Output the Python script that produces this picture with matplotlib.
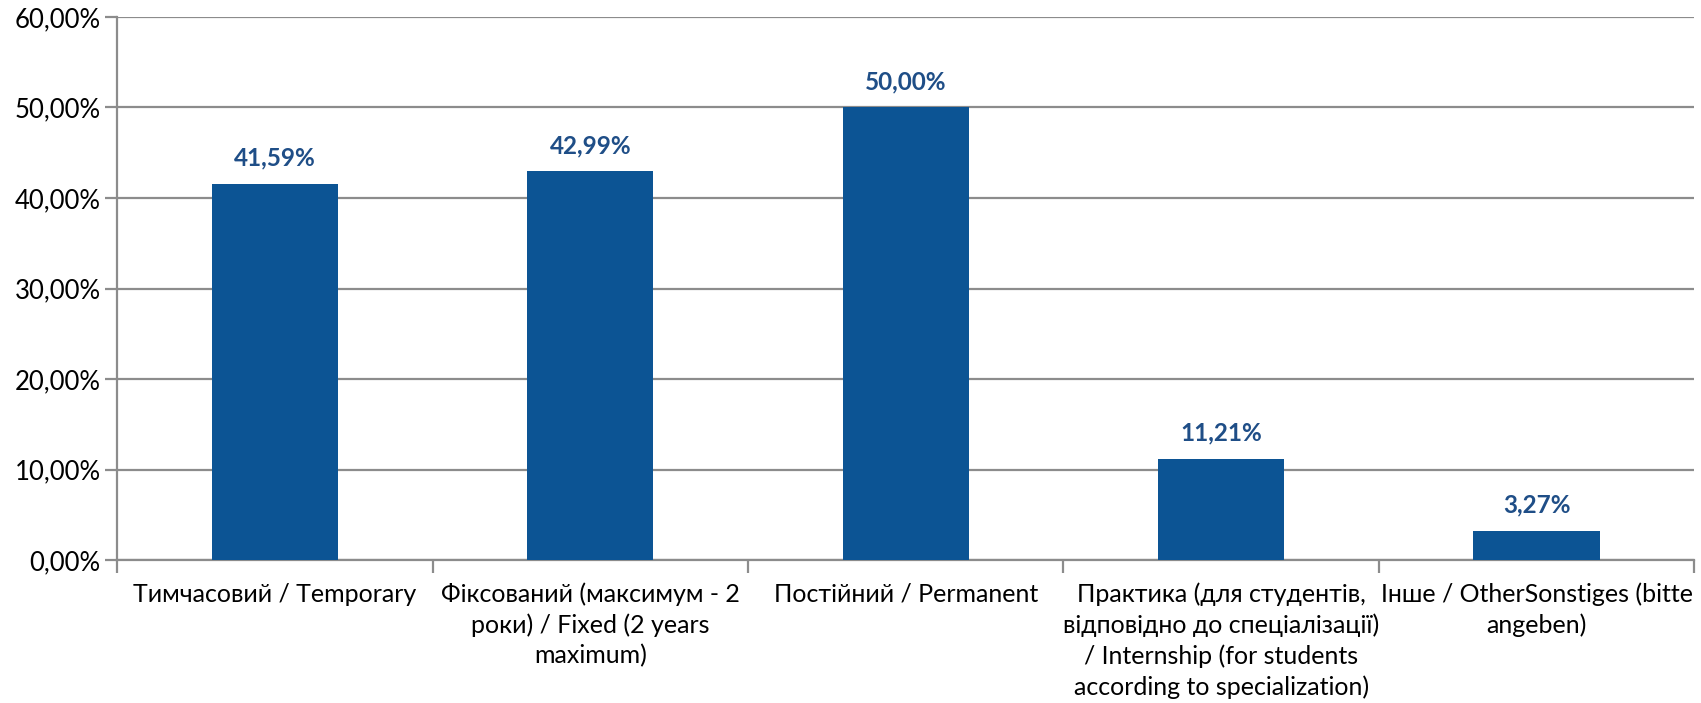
import numpy as np
import matplotlib.pyplot as plt
from matplotlib.ticker import FixedLocator, FuncFormatter

# Дані
categories = [
    "Тимчасовий / Temporary",
    "Фіксований (максимум - 2\nроки) / Fixed (2 years\nmaximum)",
    "Постійний / Permanent",
    "Практика (для студентів,\nвідповідно до спеціалізації)\n/ Internship (for students\naccording to specialization)",
    "Інше / OtherSonstiges (bitte\nangeben)",
]
values = [41.59, 42.99, 50.00, 11.21, 3.27]
y_ticks = [0, 10, 20, 30, 40, 50, 60]

plt.rcParams['font.family'] = ['Lato', 'DejaVu Sans']

bar_color = '#0C5494'
label_color = '#1F4E87'
grid_color = '#8C8C8C'

fig = plt.figure(figsize=(17.01, 7.03), dpi=100)
ax = fig.add_axes([0.069, 0.203, 0.927, 0.773])

x = np.arange(len(values))
ax.bar(x, values, width=0.4, color=bar_color, zorder=3)

for xi, v in zip(x, values):
    ax.annotate(f"{v:.2f}%".replace('.', ','), (xi, v), xytext=(0, 10),
                textcoords='offset points', ha='center', va='bottom',
                fontsize=17.5, fontweight='bold', color=label_color)

ax.set_xlim(-0.5, len(values) - 0.5)
ax.set_ylim(0, 60)
ax.set_yticks(y_ticks)
ax.yaxis.set_major_formatter(FuncFormatter(lambda v, p: f"{v:.2f}%".replace('.', ',')))
ax.grid(axis='y', color=grid_color, linewidth=1.6, zorder=0)

# мітки категорій по центру, риски між категоріями
ax.xaxis.set_major_locator(FixedLocator(np.arange(len(values) + 1) - 0.5))
ax.xaxis.set_major_formatter(FuncFormatter(lambda v, p: ''))
ax.xaxis.set_minor_locator(FixedLocator(x))
ax.set_xticklabels(categories, minor=True, linespacing=1.37)
ax.tick_params(axis='x', which='minor', length=0, pad=16, labelsize=18)
ax.tick_params(axis='x', which='major', length=9, width=1.6, color=grid_color)
ax.tick_params(axis='y', length=9, width=1.6, color=grid_color, labelsize=18.5, pad=3)

for s in ['top', 'right']:
    ax.spines[s].set_visible(False)
for s in ['left', 'bottom']:
    ax.spines[s].set_color(grid_color)
    ax.spines[s].set_linewidth(1.6)

fig.savefig('out.png', dpi=100)
